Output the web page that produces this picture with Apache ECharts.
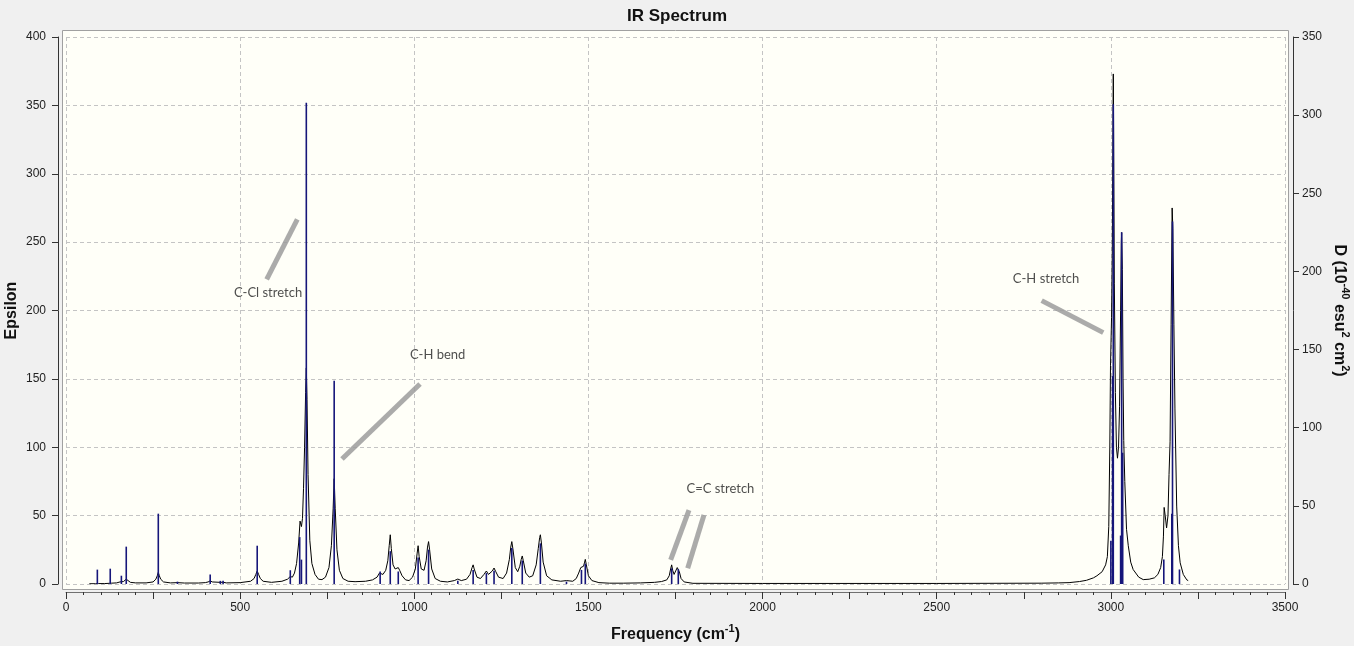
<!DOCTYPE html>
<html>
<head>
<meta charset="utf-8">
<script src="https://cdn.jsdelivr.net/npm/echarts@6/dist/echarts.min.js"></script>
<style>
html,body{margin:0;padding:0;background:#f0f0f0;}
#chart{width:1354px;height:646px;}
</style>
</head>
<body>
<div id="chart"></div>
<script>
// ---- Data ----
// Stick spectrum: frequency (cm-1) and dipole strength D (right axis)
var stickFreq = [90,127,159,173,265,320,414,443,451,549,644,671,676,690,770,902,931,954,1011,1041,1125,1169,1207,1229,1280,1310,1362,1437,1480,1491,1739,1758,3000,3005,3007,3028,3031,3034,3152,3175,3177,3197];
var stickD    = [9.2,9.8,5.3,23.9,45,1.5,6,2,2,24.5,8.8,30,15.6,308,130,8,21,8,17,22,2,9,7,8.5,23,15,26,1.5,9,13,10,9.5,27.6,133,307,31,225,84,15.7,45,232,9.3];

// Broadened spectrum: frequency (cm-1) and epsilon (left axis)
var specFreq = [67,85,90,93,110,124,127,130,145,155,159,165,170,173,176,185,200,230,250,258,262,265,268,272,280,300,320,340,380,400,408,414,420,443,451,460,500,530,540,545,549,553,558,566,590,620,636,644,650,656,662,668,672,676,679,682,685,688,690,692,695,700,706,715,725,735,745,755,762,767,770,773,778,785,795,810,830,860,880,893,900,904,910,918,924,928,931,934,939,945,950,954,958,965,975,985,995,1003,1008,1011,1014,1020,1028,1034,1038,1041,1044,1050,1060,1075,1095,1115,1125,1135,1150,1160,1166,1169,1172,1180,1190,1200,1207,1213,1218,1224,1229,1234,1242,1255,1265,1273,1277,1280,1283,1290,1297,1303,1307,1310,1313,1320,1330,1340,1350,1356,1360,1362,1365,1370,1380,1395,1420,1437,1455,1465,1472,1478,1482,1486,1489,1491,1494,1500,1510,1530,1560,1600,1650,1690,1710,1725,1732,1736,1739,1742,1746,1750,1755,1758,1761,1766,1775,1800,2000,2500,2800,2850,2880,2910,2930,2950,2960,2975,2985,2990,2994,2997,2999,3002,3004,3006,3007,3008,3010,3013,3016,3019,3022,3025,3028,3030,3031,3033,3035,3037,3040,3045,3050,3057,3064,3080,3093,3110,3125,3135,3143,3148,3151,3153,3156,3160,3164,3167,3170,3173,3175,3176,3178,3181,3184,3189,3194,3199,3208,3218,3222];
var specEps  = [0.2,0.2,0.8,0.3,0.3,0.5,1.2,0.6,0.8,1.5,2.5,1.8,2.5,3.5,2.5,1.2,0.8,0.8,1.5,3.5,6,8.5,6,3.5,1.5,0.8,1,0.7,0.7,1,1.5,2.3,1.5,1.2,1.3,0.8,1,2,4,7,9.5,7,4,2,1.2,2,3.5,5.5,5,8,15,30,46,42,48,70,100,140,158,135,80,32,15,7,3.5,3.2,5,12,28,55,77,55,25,10,4,2,1.7,2,3,5,8,8,7,10,17,28,36,26,14,11,11.5,12,10,6,3,2.5,5,11,22,28,20,11,10,17,27,31,25,11,4,2,1.5,2.5,3.6,2.5,3.5,7,12,14,11,5,4,7,9.5,7,6.5,9.5,11.7,9,5,4,8,18,27,31,26,12,9,13,18,20.5,17,8,5,6,14,26,34,36,30,16,6,3,2,2.5,2,4,8,12,12.5,13,16,18,14,6,2.5,1,0.6,0.6,0.8,1.2,1.8,3,6,11,14,10,7,8,12,13.2,9,4,1.5,0.5,0.4,0.4,0.6,0.8,1,1.8,2.7,4.5,6,9,14,20,42,100,160,195,240,330,373,330,220,140,100,92,100,130,200,250,257,230,150,105,75,40,28,16,10.6,5,3.2,3.5,4.5,7,12,20,35,56,50,41,50,80,104,190,250,275,260,190,128,57,28,15.5,7,3,2.5];

// Annotations (frequency, epsilon)
var annoText  = ['C-Cl stretch','C-H bend','C=C stretch','C-H stretch'];
var annoTextX = [580,1067,1879,2814];
var annoTextY = [212.8,167.5,69.3,223.5];
var annoLines = [
  [[576.2,222.8],[664.1,266.7]],
  [[792.4,91.4],[1016.4,146.3]],
  [[1736.1,17.6],[1788.7,54.1]],
  [[1785,11.5],[1831.7,50.5]],
  [[2801.3,207.2],[2978.2,183.8]]
];
var xTicks = [0,500,1000,1500,2000,2500,3000,3500];

// ---- Build series data ----
var sticks = stickFreq.map(function(f,i){return [f, stickD[i]];});
var spectrum = specFreq.map(function(f,i){return [f, specEps[i]];});
var labels = annoText.map(function(t,i){return {name:t, value:[annoTextX[i], annoTextY[i]]};});
var segs = annoLines.map(function(c){return {coords:c};});

var FONT = 'Liberation Sans, Arial, sans-serif';
var chart = echarts.init(document.getElementById('chart'));
chart.setOption({
  backgroundColor:'#f0f0f0',
  animation:false,
  title:{text:'IR Spectrum', left:'center', top:3,
    textStyle:{fontFamily:FONT, fontSize:17, fontWeight:'bold', color:'#111'}},
  graphic:[{type:'rect', z:-10, silent:true,
    shape:{x:62.5,y:30.5,width:1226,height:559},
    style:{fill:'#fffff8', stroke:'#a0a0a0', lineWidth:1}}],
  grid:{left:66, right:69, top:37, bottom:62, containLabel:false, outerBoundsMode:'none'},
  xAxis:[{
    type:'value', min:0, max:3500, interval:500, position:'bottom', offset:8,
    axisLine:{show:true, onZero:false, lineStyle:{color:'#707070', width:1}},
    axisTick:{show:true, length:7, lineStyle:{color:'#333'}},
    minorTick:{show:true, splitNumber:10, length:3, lineStyle:{color:'#333'}},
    axisLabel:{margin:10, fontFamily:FONT, fontSize:12, color:'#222',
      formatter:function(v){return xTicks.indexOf(v)>=0 ? String(v) : '';}},
    splitLine:{show:true, lineStyle:{color:'#c4c4c4', type:[4,3]}},
    name:'{b|Frequency (cm}{s|-1}{b|)}', nameLocation:'middle', nameGap:31,
    nameTextStyle:{rich:{
      b:{fontFamily:FONT, fontSize:16, fontWeight:'bold', color:'#111', lineHeight:24},
      s:{fontFamily:FONT, fontSize:11, fontWeight:'bold', color:'#111', verticalAlign:'top', lineHeight:12}}}
  },{
    type:'value', min:0, max:3500, interval:250, position:'bottom', offset:8,
    axisLine:{show:false, onZero:false}, axisLabel:{show:false}, splitLine:{show:false},
    axisTick:{show:true, length:7, lineStyle:{color:'#333'}}
  }],
  yAxis:[{
    type:'value', min:0, max:400, interval:50, position:'left', offset:8,
    axisLine:{show:true, onZero:false, lineStyle:{color:'#333'}},
    axisTick:{show:true, length:6, lineStyle:{color:'#333'}},
    axisLabel:{margin:12, fontFamily:FONT, fontSize:12, color:'#222'},
    splitLine:{show:true, lineStyle:{color:'#c4c4c4', type:[4,3]}},
    name:'Epsilon', nameLocation:'middle', nameGap:38, nameRotate:90, nameMoveOverlap:false,
    nameTextStyle:{fontFamily:FONT, fontSize:16, fontWeight:'bold', color:'#111'}
  },{
    type:'value', min:0, max:350, interval:50, position:'right', offset:8,
    axisLine:{show:true, onZero:false, lineStyle:{color:'#333'}},
    axisTick:{show:true, length:6, lineStyle:{color:'#333'}},
    axisLabel:{margin:9, fontFamily:FONT, fontSize:12, color:'#222'},
    splitLine:{show:false},
    name:'{b|D (10}{s|-40}{b| esu}{s|2}{b| cm}{s|2}{b|)}', nameLocation:'middle', nameGap:34, nameRotate:-90, nameMoveOverlap:false,
    nameTextStyle:{rich:{
      b:{fontFamily:FONT, fontSize:16, fontWeight:'bold', color:'#111', lineHeight:24},
      s:{fontFamily:FONT, fontSize:11, fontWeight:'bold', color:'#111', verticalAlign:'top', lineHeight:12}}}
  }],
  series:[{
    type:'line', name:'spectrum', xAxisIndex:0, yAxisIndex:0, data:spectrum,
    showSymbol:false, symbol:'none', smooth:false, z:3,
    lineStyle:{color:'#000', width:1}
  },{
    type:'bar', name:'sticks', xAxisIndex:0, yAxisIndex:1, data:sticks,
    barWidth:1.6, z:4, itemStyle:{color:'#16167a'}
  },{
    type:'lines', coordinateSystem:'cartesian2d', xAxisIndex:0, yAxisIndex:0, data:segs, z:5,
    lineStyle:{color:'#9c9c9c', width:5, opacity:0.85, curveness:0}
  },{
    type:'scatter', xAxisIndex:0, yAxisIndex:0, data:labels, symbolSize:0, z:6,
    label:{show:true, position:'inside', formatter:'{b}', fontFamily:'Lato, "Open Sans", sans-serif', fontSize:13, color:'#222'}
  }]
});
</script>
</body>
</html>
